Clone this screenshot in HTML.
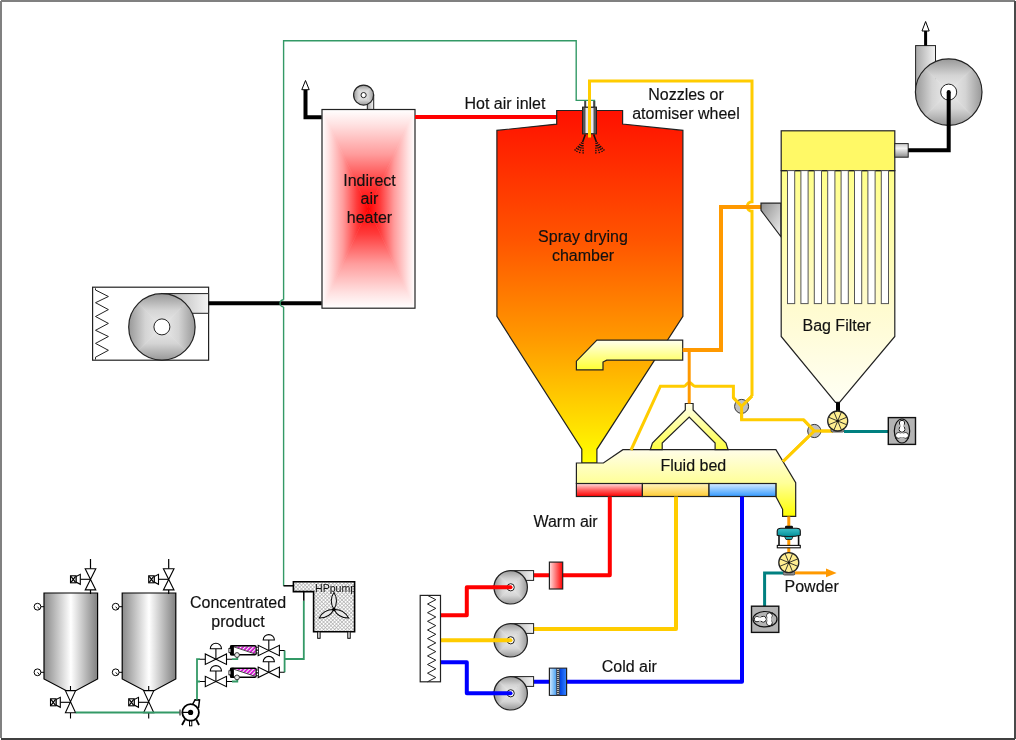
<!DOCTYPE html>
<html><head><meta charset="utf-8">
<style>
html,body{margin:0;padding:0;background:#fff;}
body{width:1016px;height:740px;overflow:hidden;}
svg{display:block;font-family:"Liberation Sans",sans-serif;will-change:transform;}
text{stroke:#111;stroke-width:0.15px;}
</style></head><body>
<svg width="1016" height="740" viewBox="0 0 1016 740">
<defs>
<linearGradient id="gChamber" x1="0" y1="110" x2="0" y2="463" gradientUnits="userSpaceOnUse">
  <stop offset="0" stop-color="#ff1000"/>
  <stop offset="0.37" stop-color="#ff5500"/>
  <stop offset="0.65" stop-color="#ff9a00"/>
  <stop offset="1" stop-color="#ffff00"/>
</linearGradient>
<linearGradient id="gHT" x1="0" y1="0" x2="0" y2="1"><stop offset="0" stop-color="#ffffff"/><stop offset="0.15" stop-color="#ffe2e2"/><stop offset="0.45" stop-color="#ff9c9c"/><stop offset="0.75" stop-color="#ff3a3a"/><stop offset="1" stop-color="#ff0000"/></linearGradient>
<linearGradient id="gHB" x1="0" y1="1" x2="0" y2="0"><stop offset="0" stop-color="#ffffff"/><stop offset="0.15" stop-color="#ffe2e2"/><stop offset="0.45" stop-color="#ff9c9c"/><stop offset="0.75" stop-color="#ff3a3a"/><stop offset="1" stop-color="#ff0000"/></linearGradient>
<linearGradient id="gHL" x1="0" y1="0" x2="1" y2="0"><stop offset="0" stop-color="#ffffff"/><stop offset="0.15" stop-color="#ffe2e2"/><stop offset="0.45" stop-color="#ff9c9c"/><stop offset="0.75" stop-color="#ff3a3a"/><stop offset="1" stop-color="#ff0000"/></linearGradient>
<linearGradient id="gHR" x1="1" y1="0" x2="0" y2="0"><stop offset="0" stop-color="#ffffff"/><stop offset="0.15" stop-color="#ffe2e2"/><stop offset="0.45" stop-color="#ff9c9c"/><stop offset="0.75" stop-color="#ff3a3a"/><stop offset="1" stop-color="#ff0000"/></linearGradient>
<linearGradient id="gFT" x1="0" y1="0" x2="0" y2="1"><stop offset="0" stop-color="#989898"/><stop offset="0.5" stop-color="#d4d4d4"/><stop offset="1" stop-color="#ececec"/></linearGradient>
<linearGradient id="gFB" x1="0" y1="1" x2="0" y2="0"><stop offset="0" stop-color="#989898"/><stop offset="0.5" stop-color="#d4d4d4"/><stop offset="1" stop-color="#ececec"/></linearGradient>
<linearGradient id="gFL" x1="0" y1="0" x2="1" y2="0"><stop offset="0" stop-color="#989898"/><stop offset="0.5" stop-color="#d4d4d4"/><stop offset="1" stop-color="#ececec"/></linearGradient>
<linearGradient id="gFR" x1="1" y1="0" x2="0" y2="0"><stop offset="0" stop-color="#989898"/><stop offset="0.5" stop-color="#d4d4d4"/><stop offset="1" stop-color="#ececec"/></linearGradient>
<linearGradient id="gOutlet" x1="0" y1="0" x2="1" y2="0">
  <stop offset="0" stop-color="#a8a8a8"/><stop offset="1" stop-color="#f4f4f4"/>
</linearGradient>
<linearGradient id="gOutletV" x1="0" y1="0" x2="0" y2="1">
  <stop offset="0" stop-color="#c8c8c8"/><stop offset="0.35" stop-color="#f4f4f4"/><stop offset="1" stop-color="#8c8c8c"/>
</linearGradient>
<linearGradient id="gTank" x1="0" y1="0" x2="1" y2="0">
  <stop offset="0" stop-color="#8a8a8a"/>
  <stop offset="0.5" stop-color="#ffffff"/>
  <stop offset="1" stop-color="#808080"/>
</linearGradient>
<linearGradient id="gBed" x1="0" y1="450" x2="0" y2="516" gradientUnits="userSpaceOnUse">
  <stop offset="0" stop-color="#fffde8"/>
  <stop offset="0.5" stop-color="#ffff99"/>
  <stop offset="1" stop-color="#ffff00"/>
</linearGradient>
<linearGradient id="gElbow" x1="0" y1="340" x2="0" y2="370" gradientUnits="userSpaceOnUse">
  <stop offset="0" stop-color="#fffff0"/>
  <stop offset="1" stop-color="#ffff30"/>
</linearGradient>
<linearGradient id="gY" x1="0" y1="403" x2="0" y2="450" gradientUnits="userSpaceOnUse">
  <stop offset="0" stop-color="#fffff0"/>
  <stop offset="1" stop-color="#ffff40"/>
</linearGradient>
<linearGradient id="gRedSeg" x1="0" y1="0" x2="0" y2="1">
  <stop offset="0" stop-color="#ffe0e0"/><stop offset="0.5" stop-color="#ff6060"/><stop offset="1" stop-color="#ff0000"/>
</linearGradient>
<linearGradient id="gYelSeg" x1="0" y1="0" x2="0" y2="1">
  <stop offset="0" stop-color="#fff4c0"/><stop offset="1" stop-color="#ffcc33"/>
</linearGradient>
<linearGradient id="gBluSeg" x1="0" y1="0" x2="0" y2="1">
  <stop offset="0" stop-color="#d8ecff"/><stop offset="1" stop-color="#3399ff"/>
</linearGradient>
<linearGradient id="gBag" x1="0" y1="170" x2="0" y2="402" gradientUnits="userSpaceOnUse">
  <stop offset="0" stop-color="#ffff88"/>
  <stop offset="0.6" stop-color="#fffbd0"/>
  <stop offset="1" stop-color="#fffff4"/>
</linearGradient>
<linearGradient id="gInlet" x1="0" y1="0" x2="1" y2="1">
  <stop offset="0" stop-color="#909090"/><stop offset="1" stop-color="#f0f0f0"/>
</linearGradient>
<linearGradient id="gHeaterSm" x1="0" y1="0" x2="1" y2="0">
  <stop offset="0" stop-color="#ffe0e0"/><stop offset="1" stop-color="#ff0000"/>
</linearGradient>
<linearGradient id="gTeal" x1="0" y1="0" x2="0" y2="1">
  <stop offset="0" stop-color="#40c0c8"/><stop offset="1" stop-color="#009099"/>
</linearGradient>
<pattern id="pHatch" width="2.6" height="2.6" patternUnits="userSpaceOnUse" patternTransform="rotate(45)">
  <rect width="2.6" height="2.6" fill="#fff"/>
  <rect x="0" y="0" width="0.65" height="2.6" fill="#ababab"/>
  <rect x="0" y="0" width="2.6" height="0.65" fill="#ababab"/>
</pattern>
<linearGradient id="gCoolL" x1="0" y1="0" x2="1" y2="0">
  <stop offset="0" stop-color="#c8e4ff"/><stop offset="1" stop-color="#4aa0f0"/>
</linearGradient>
<linearGradient id="gCoolR" x1="0" y1="0" x2="1" y2="0">
  <stop offset="0" stop-color="#0040e0"/><stop offset="1" stop-color="#3080ff"/>
</linearGradient>
<pattern id="pMag" width="2.9" height="2.9" patternUnits="userSpaceOnUse" patternTransform="rotate(45)">
  <rect width="2.9" height="2.9" fill="#fff"/>
  <rect width="1.5" height="2.9" fill="#ee00ee"/>
  <rect x="1.5" width="0.4" height="2.9" fill="#400040"/>
</pattern>
<g id="vvalve"><path d="M-5.3 -10.6 H5.3 L-5.3 10.6 H5.3 Z" fill="#fff" stroke="#000" stroke-width="1.1" stroke-linejoin="miter"/></g>
<g id="actuator">
  <path d="M0 0 H-10.2" stroke="#000" stroke-width="1.1"/>
  <path d="M-10.2 -5 V5 L-14.5 2.8 V-2.8 Z" fill="#fff" stroke="#000" stroke-width="1.1"/>
  <rect x="-20" y="-3.5" width="5.5" height="7" fill="#fff" stroke="#000" stroke-width="1.1"/>
  <path d="M-19.5 -3 L-15 3 M-19.5 3 L-15 -3" stroke="#000" stroke-width="1.2"/>
</g>
<g id="gauge">
  <circle cx="0" cy="0" r="3.4" fill="#fff" stroke="#000" stroke-width="1"/>
  <path d="M0 0 L2 2.4" stroke="#000" stroke-width="0.9"/>
  <path d="M3.4 0 H6.5" stroke="#000" stroke-width="1"/>
</g>
<g id="tank">
  <path d="M44 593 H97.6 V679 L75.7 690.7 H66.4 L44 679 Z" fill="url(#gTank)" stroke="#000" stroke-width="1.2"/>
  <use href="#gauge" x="37.5" y="606.7"/>
  <use href="#gauge" x="37.5" y="672.3"/>
  <path d="M90.5 559 V568.7 M90.5 590 V594" stroke="#000" stroke-width="1.2"/>
  <use href="#vvalve" x="90.5" y="579.3"/>
  <use href="#actuator" x="90.5" y="579.3"/>
  <path d="M70.5 686 V691 M70.5 712.7 V718.4" stroke="#000" stroke-width="1.1"/>
  <g transform="translate(70.5 701.7) scale(0.96 1.04)"><use href="#vvalve"/></g>
  <use href="#actuator" x="70.5" y="702.3"/>
</g>
<g id="hvalve">
  <path d="M-10.6 -5.2 V5.2 L10.6 -5.2 V5.2 Z" fill="#fff" stroke="#000" stroke-width="1.1" stroke-linejoin="miter"/>
  <path d="M0 0 V-10.5" stroke="#000" stroke-width="1.1"/>
  <path d="M-5.6 -10.5 A5.6 5.4 0 0 1 5.6 -10.5 Z" fill="#fff" stroke="#000" stroke-width="1.1"/>
</g>
<g id="flowm">
  <rect x="0" y="0" width="25.6" height="8.9" rx="1.5" fill="#fff" stroke="#000" stroke-width="1.6"/>
  <polygon points="4,0.8 24.8,0.8 24.8,8.2" fill="url(#pMag)"/><path d="M3.4 1 L25 8.2" stroke="#222" stroke-width="0.8"/>
  <rect x="0" y="-0.5" width="3.4" height="10" fill="#000"/>
  <rect x="-1.6" y="2.5" width="2" height="4" fill="#fff" stroke="#000" stroke-width="0.8"/>
  <rect x="25.8" y="1.8" width="2" height="2.2" fill="#fff" stroke="#000" stroke-width="0.6"/>
  <rect x="25.8" y="4.8" width="2" height="2.2" fill="#fff" stroke="#000" stroke-width="0.6"/>
  <circle cx="6.5" cy="9.1" r="2.4" fill="#e8e8e8" stroke="#222" stroke-width="0.9"/>
</g>
</defs>
<rect x="0" y="0" width="1016" height="740" fill="#fff"/>
<rect x="1" y="0" width="1014" height="2" fill="#808080"/>
<rect x="0" y="1" width="2" height="737" fill="#808080"/>
<rect x="1014" y="1" width="2" height="738" fill="#4a4a4a"/>
<rect x="1" y="738" width="1014" height="2" fill="#404040"/>
<path d="M283.6 585.8 V306.9 M283.6 299.8 V40.8 H576.2 V100.4 H594.5 V107" fill="none" stroke="#339966" stroke-width="1.4"/>
<path d="M585.2 101 V107.5 M594.2 101 V107.5" fill="none" stroke="#444" stroke-width="2"/>
<rect x="92.6" y="287.2" width="116" height="73" fill="#fff" stroke="#222" stroke-width="1.2"/>
<path d="M95.5 288.3 V290 L108.4 296.5 L95.5 302.7 L108.4 309.6 L95.5 316.5 L108.4 323.4 L95.5 330.3 L108.4 336.5 L95.5 343.4 L108.4 350.3 L95.5 357.2 V359.5" fill="none" stroke="#222" stroke-width="1"/>
<path d="M161.9 293.6 H208.6 V313.3 H190 Z" fill="url(#gOutlet)" stroke="#222" stroke-width="1"/>
<clipPath id="cpFan1"><circle cx="161.9" cy="326.9" r="33.2"/></clipPath><g clip-path="url(#cpFan1)">
<polygon points="128.7,293.7 195.10000000000002,293.7 161.9,326.9" fill="url(#gFT)" stroke="url(#gFT)" stroke-width="0.6"/>
<polygon points="128.7,360.09999999999997 195.10000000000002,360.09999999999997 161.9,326.9" fill="url(#gFB)" stroke="url(#gFB)" stroke-width="0.6"/>
<polygon points="128.7,293.7 128.7,360.09999999999997 161.9,326.9" fill="url(#gFL)" stroke="url(#gFL)" stroke-width="0.6"/>
<polygon points="195.10000000000002,293.7 195.10000000000002,360.09999999999997 161.9,326.9" fill="url(#gFR)" stroke="url(#gFR)" stroke-width="0.6"/>
</g><circle cx="161.9" cy="326.9" r="33.2" fill="none" stroke="#222" stroke-width="1.2"/><circle cx="161.9" cy="326.9" r="8" fill="#fff" stroke="#222" stroke-width="1"/>
<path d="M208.6 303.3 H322" stroke="#000" stroke-width="4"/>
<path d="M283.6 306.9 A3.55 3.55 0 0 1 283.6 299.8" fill="none" stroke="#339966" stroke-width="1.4"/>
<path d="M305.5 89.7 V117.2 H322" fill="none" stroke="#000" stroke-width="4" stroke-linejoin="miter"/>
<path d="M305.5 80.5 L309.2 89.7 L301.8 89.7 Z" fill="#fff" stroke="#000" stroke-width="1"/>
<rect x="367.3" y="95" width="6.4" height="14.5" fill="url(#gOutlet)" stroke="#222" stroke-width="1"/>
<clipPath id="cpFan2"><circle cx="363.6" cy="95.1" r="10"/></clipPath><g clip-path="url(#cpFan2)">
<polygon points="353.6,85.1 373.6,85.1 363.6,95.1" fill="url(#gFT)" stroke="url(#gFT)" stroke-width="0.6"/>
<polygon points="353.6,105.1 373.6,105.1 363.6,95.1" fill="url(#gFB)" stroke="url(#gFB)" stroke-width="0.6"/>
<polygon points="353.6,85.1 353.6,105.1 363.6,95.1" fill="url(#gFL)" stroke="url(#gFL)" stroke-width="0.6"/>
<polygon points="373.6,85.1 373.6,105.1 363.6,95.1" fill="url(#gFR)" stroke="url(#gFR)" stroke-width="0.6"/>
</g><circle cx="363.6" cy="95.1" r="10" fill="none" stroke="#222" stroke-width="1.2"/><circle cx="363.6" cy="95.1" r="2.6" fill="#fff" stroke="#222" stroke-width="1"/>
<g>
<polygon points="322.0,109.5 415.0,109.5 368.5,208.85" fill="url(#gHT)" stroke="url(#gHT)" stroke-width="0.6"/>
<polygon points="322.0,308.2 415.0,308.2 368.5,208.85" fill="url(#gHB)" stroke="url(#gHB)" stroke-width="0.6"/>
<polygon points="322,109.5 322,308.2 368.5,208.85" fill="url(#gHL)" stroke="url(#gHL)" stroke-width="0.6"/>
<polygon points="415,109.5 415,308.2 368.5,208.85" fill="url(#gHR)" stroke="url(#gHR)" stroke-width="0.6"/>
</g>
<rect x="322" y="109.5" width="93" height="198.7" fill="none" stroke="#222" stroke-width="1.2"/>
<text x="369.5" y="185.6" font-size="16" text-anchor="middle" fill="#111">Indirect</text>
<text x="369.5" y="204.4" font-size="16" text-anchor="middle" fill="#111">air</text>
<text x="369.5" y="223.2" font-size="16" text-anchor="middle" fill="#111">heater</text>
<path d="M415 117 H557" stroke="#ff0000" stroke-width="4"/>
<text x="464.5" y="109.3" font-size="16" fill="#111">Hot air inlet</text>
<polygon points="556.7,110.5 622.6,110.5 622.6,124 682.9,130.4 682.9,316.4 596.9,449.3 596.9,463 581.8,463 581.8,449.3 496.9,316.4 496.9,130.4 556.7,124.1" fill="url(#gChamber)" stroke="#222" stroke-width="1.2"/>
<text x="583" y="241.9" font-size="16" text-anchor="middle" fill="#111">Spray drying</text>
<text x="583" y="260.5" font-size="16" text-anchor="middle" fill="#111">chamber</text>
<rect x="582.5" y="107.1" width="14" height="26.8" fill="#555" stroke="#222" stroke-width="1"/>
<rect x="585.5" y="108" width="8" height="25" fill="#e8e8f0"/>
<g stroke="#111" fill="none">
  <path d="M585.3 134.5 L582.6 142" stroke-width="1.6"/>
  <path d="M593.7 134.5 L596.4 142" stroke-width="1.6"/>
  <path d="M582.8 141.5 L574.3 150.8 M596.2 141.5 L604.7 150.8 M582.8 141.5 L576.2 152.6 M596.2 141.5 L602.8 152.6 M582.8 141.5 L579.3 153.8 M596.2 141.5 L599.7 153.8 M582.8 141.5 L583.2 154.2 M596.2 141.5 L595.8 154.2" stroke-width="1.5" stroke-dasharray="1.3 1.1" stroke-dashoffset="-1.2"/>
</g>
<text x="686" y="99.6" font-size="16" text-anchor="middle" fill="#111">Nozzles or</text>
<text x="686" y="119.2" font-size="16" text-anchor="middle" fill="#111">atomiser wheel</text>
<polygon points="682.7,340.2 596.9,340.2 576.4,361.2 576.4,369.9 603,369.9 603,362 606.7,360.1 682.7,360.1" fill="url(#gElbow)" stroke="#222" stroke-width="1.2"/>
<polygon points="576.4,463 603.4,463 622.9,449.7 775.9,449.7 795.7,482.6 795.7,516.4 782.6,516.4 782.6,509.3 775.9,496.5 775.9,483.5 576.4,483.5" fill="url(#gBed)" stroke="#222" stroke-width="1.2"/>
<rect x="576.4" y="483.5" width="66" height="13" fill="url(#gRedSeg)" stroke="#222" stroke-width="1.2"/>
<rect x="642.4" y="483.5" width="66.6" height="13" fill="url(#gYelSeg)" stroke="#222" stroke-width="1.2"/>
<rect x="709" y="483.5" width="66.9" height="13" fill="url(#gBluSeg)" stroke="#222" stroke-width="1.2"/>
<text x="693.3" y="470.5" font-size="16" text-anchor="middle" fill="#111">Fluid bed</text>
<polygon points="685.3,403.5 693.1,403.5 693.1,410 726,443 728.1,449.7 715.1,449.7 715.1,443 689.2,417.1 662.2,443 662.2,449.7 650.3,449.7 652.4,443 685.3,410" fill="url(#gY)" stroke="#222" stroke-width="1.2"/>
<g fill="none" stroke="#ffcc00" stroke-width="3" stroke-linejoin="miter">
  <path d="M631 450 L660.4 386.2 H684 C686.2 386.2 686.8 382.4 689.2 382.4 C691.6 382.4 692.4 386.2 694.9 386.2 H733.4 V397.7 L741.6 406.4"/>
  <path d="M752 396 L741.6 406.4 V419.8 H803.5 L814.3 431"/>
  <path d="M783 461.5 L814.3 431 H833"/>
  <path d="M589.5 137.5 V80.9 H752 V201.8 A4.7 4.7 0 0 0 752 211.2 V396"/>
</g>
<circle cx="741.6" cy="406.4" r="7" fill="#c0c0c0" stroke="#333" stroke-width="1"/>
<circle cx="814.3" cy="431" r="6.6" fill="#c0c0c0" stroke="#333" stroke-width="1"/>
<g fill="none" stroke="#ffcc00" stroke-width="3">
  <path d="M733.4 397.7 L741.6 406.4 L752 396 M741.6 406.4 V419.8"/>
  <path d="M803.5 419.8 L814.3 431 L783 461.5 M814.3 431 H833"/>
</g>
<path d="M689.2 349 V403.5" fill="none" stroke="#ff9900" stroke-width="3"/>
<path d="M682.7 350 H721 V207 H761" fill="none" stroke="#ff9900" stroke-width="4" stroke-linejoin="miter"/>
<polygon points="761,203.2 781,203.2 781,236.8 761,210.3" fill="url(#gInlet)" stroke="#222" stroke-width="1.2"/>
<polygon points="781.2,170.6 894.8,170.6 894.8,336.5 839.5,402.4 835.5,402.4 781.2,336.5" fill="url(#gBag)" stroke="#222" stroke-width="1.2"/>
<rect x="781.2" y="130.8" width="113.6" height="39.8" fill="#fff966" stroke="#222" stroke-width="1.2"/>
<g fill="#fff" stroke="#555" stroke-width="1"><rect x="787.5" y="170.6" width="7.2" height="133"/><rect x="800.9" y="170.6" width="7.2" height="133"/><rect x="814.3" y="170.6" width="7.2" height="133"/><rect x="827.7" y="170.6" width="7.2" height="133"/><rect x="841.1" y="170.6" width="7.2" height="133"/><rect x="854.5" y="170.6" width="7.2" height="133"/><rect x="867.9" y="170.6" width="7.2" height="133"/><rect x="881.3" y="170.6" width="7.2" height="133"/></g>
<text x="836.7" y="331.1" font-size="16" text-anchor="middle" fill="#111">Bag Filter</text>
<rect x="894.8" y="143.6" width="13.4" height="13.6" fill="url(#gOutletV)" stroke="#222" stroke-width="1"/>
<rect x="836" y="402.4" width="4" height="9" fill="#000"/>
<rect x="831" y="428" width="13" height="4" rx="1.5" fill="#a0a0a0" stroke="#333" stroke-width="0.8"/>
<circle cx="837.7" cy="421" r="10" fill="#ffee90" stroke="#222" stroke-width="1.3"/><path d="M837.7 421 L846.94 424.83 M837.7 421 L841.53 430.24 M837.7 421 L833.87 430.24 M837.7 421 L828.46 424.83 M837.7 421 L828.46 417.17 M837.7 421 L833.87 411.76 M837.7 421 L841.53 411.76 M837.7 421 L846.94 417.17 " stroke="#222" stroke-width="0.9"/><circle cx="837.7" cy="421" r="1.2" fill="#111"/>
<path d="M844 431.6 H888.5" stroke="#008080" stroke-width="3"/>
<rect x="888.3" y="417.6" width="27.2" height="26.8" fill="#b4b4b4" stroke="#111" stroke-width="1.4"/>
<g transform="translate(902 431) rotate(0)"><ellipse cx="0" cy="0" rx="7.7" ry="12" fill="#b4b4b4" stroke="#111" stroke-width="1.2"/><path d="M-7 7.2 Q0 4.5 7 7.2" fill="none" stroke="#111" stroke-width="1"/><circle cx="0" cy="-8" r="2.6" fill="#fff" stroke="#111" stroke-width="1"/><circle cx="0" cy="-1.8" r="2.9" fill="#fff" stroke="#111" stroke-width="1"/><circle cx="-3.6" cy="4.4" r="2.7" fill="#fff" stroke="#111" stroke-width="1"/><circle cx="3.6" cy="4.4" r="2.7" fill="#fff" stroke="#111" stroke-width="1"/><circle cx="0" cy="-8" r="2.1" fill="#fff"/><circle cx="0" cy="-1.8" r="2.4" fill="#fff"/><circle cx="-3.6" cy="4.4" r="2.2" fill="#fff"/><circle cx="3.6" cy="4.4" r="2.2" fill="#fff"/><rect x="-1.6" y="-8" width="3.2" height="6" fill="#fff"/><rect x="-3.6" y="2.4" width="7.2" height="4" fill="#fff"/></g>
<rect x="915.6" y="45.6" width="19.9" height="48" fill="url(#gOutlet)" stroke="#222" stroke-width="1"/>
<clipPath id="cpFan3"><circle cx="948.7" cy="92.1" r="33.3"/></clipPath><g clip-path="url(#cpFan3)">
<polygon points="915.4000000000001,58.8 982.0,58.8 948.7,92.1" fill="url(#gFT)" stroke="url(#gFT)" stroke-width="0.6"/>
<polygon points="915.4000000000001,125.39999999999999 982.0,125.39999999999999 948.7,92.1" fill="url(#gFB)" stroke="url(#gFB)" stroke-width="0.6"/>
<polygon points="915.4000000000001,58.8 915.4000000000001,125.39999999999999 948.7,92.1" fill="url(#gFL)" stroke="url(#gFL)" stroke-width="0.6"/>
<polygon points="982.0,58.8 982.0,125.39999999999999 948.7,92.1" fill="url(#gFR)" stroke="url(#gFR)" stroke-width="0.6"/>
</g><circle cx="948.7" cy="92.1" r="33.3" fill="none" stroke="#222" stroke-width="1.2"/><circle cx="948.7" cy="92.1" r="8" fill="#fff" stroke="#222" stroke-width="1"/>
<path d="M908.2 150.3 H948.7 V92" fill="none" stroke="#000" stroke-width="4"/>
<circle cx="948.7" cy="92" r="2" fill="#000"/>
<path d="M925.6 45.6 V31" stroke="#000" stroke-width="3"/>
<path d="M925.6 21.5 L929.2 31 L922 31 Z" fill="#fff" stroke="#000" stroke-width="1"/>
<g fill="none" stroke-width="4" stroke-linejoin="round">
  <path d="M440.5 615.2 H466.8 V587.3 H510.7" stroke="#ff0000"/>
  <path d="M533.6 575.2 H609.8 V496.5" stroke="#ff0000"/>
  <path d="M440.5 640.3 H510.7" stroke="#ffcc00"/>
  <path d="M533.6 629 H676 V496.5" stroke="#ffcc00"/>
  <path d="M440.5 662.3 H466.8 V693.3 H510.7" stroke="#0000ff"/>
  <path d="M533.6 681.7 H742 V496.5" stroke="#0000ff"/>
</g>
<rect x="420.2" y="595.4" width="20.3" height="86.4" fill="#fff" stroke="#222" stroke-width="1.2"/>
<polyline points="427.5,595.4 435.8,599.7 427.5,604.0 435.8,608.4 427.5,612.7 435.8,617.0 427.5,621.3 435.8,625.6 427.5,630.0 435.8,634.3 427.5,638.6 435.8,642.9 427.5,647.2 435.8,651.6 427.5,655.9 435.8,660.2 427.5,664.5 435.8,668.8 427.5,673.2 435.8,677.5 427.5,681.8" fill="none" stroke="#222" stroke-width="1"/>
<rect x="510.7" y="570.6" width="22.9" height="9.8" fill="url(#gOutlet)" stroke="#222" stroke-width="1"/>
<clipPath id="cpFan4"><circle cx="510.7" cy="587.3" r="16.7"/></clipPath><g clip-path="url(#cpFan4)">
<polygon points="494.0,570.5999999999999 527.4,570.5999999999999 510.7,587.3" fill="url(#gFT)" stroke="url(#gFT)" stroke-width="0.6"/>
<polygon points="494.0,604.0 527.4,604.0 510.7,587.3" fill="url(#gFB)" stroke="url(#gFB)" stroke-width="0.6"/>
<polygon points="494.0,570.5999999999999 494.0,604.0 510.7,587.3" fill="url(#gFL)" stroke="url(#gFL)" stroke-width="0.6"/>
<polygon points="527.4,570.5999999999999 527.4,604.0 510.7,587.3" fill="url(#gFR)" stroke="url(#gFR)" stroke-width="0.6"/>
</g><circle cx="510.7" cy="587.3" r="16.7" fill="none" stroke="#222" stroke-width="1.2"/>
<circle cx="510.7" cy="587.3" r="3.6" fill="#fff" stroke="#222" stroke-width="1"/>
<path d="M494 587.3 H510.5" stroke="#ff0000" stroke-width="4" stroke-linecap="round"/>
<rect x="510.7" y="623.6" width="22.9" height="9.8" fill="url(#gOutlet)" stroke="#222" stroke-width="1"/>
<clipPath id="cpFan5"><circle cx="510.7" cy="640.3" r="16.7"/></clipPath><g clip-path="url(#cpFan5)">
<polygon points="494.0,623.5999999999999 527.4,623.5999999999999 510.7,640.3" fill="url(#gFT)" stroke="url(#gFT)" stroke-width="0.6"/>
<polygon points="494.0,657.0 527.4,657.0 510.7,640.3" fill="url(#gFB)" stroke="url(#gFB)" stroke-width="0.6"/>
<polygon points="494.0,623.5999999999999 494.0,657.0 510.7,640.3" fill="url(#gFL)" stroke="url(#gFL)" stroke-width="0.6"/>
<polygon points="527.4,623.5999999999999 527.4,657.0 510.7,640.3" fill="url(#gFR)" stroke="url(#gFR)" stroke-width="0.6"/>
</g><circle cx="510.7" cy="640.3" r="16.7" fill="none" stroke="#222" stroke-width="1.2"/>
<circle cx="510.7" cy="640.3" r="3.6" fill="#fff" stroke="#222" stroke-width="1"/>
<path d="M494 640.3 H510.5" stroke="#ffcc00" stroke-width="4" stroke-linecap="round"/>
<rect x="510.7" y="676.6" width="22.9" height="9.8" fill="url(#gOutlet)" stroke="#222" stroke-width="1"/>
<clipPath id="cpFan6"><circle cx="510.7" cy="693.3" r="16.7"/></clipPath><g clip-path="url(#cpFan6)">
<polygon points="494.0,676.5999999999999 527.4,676.5999999999999 510.7,693.3" fill="url(#gFT)" stroke="url(#gFT)" stroke-width="0.6"/>
<polygon points="494.0,710.0 527.4,710.0 510.7,693.3" fill="url(#gFB)" stroke="url(#gFB)" stroke-width="0.6"/>
<polygon points="494.0,676.5999999999999 494.0,710.0 510.7,693.3" fill="url(#gFL)" stroke="url(#gFL)" stroke-width="0.6"/>
<polygon points="527.4,676.5999999999999 527.4,710.0 510.7,693.3" fill="url(#gFR)" stroke="url(#gFR)" stroke-width="0.6"/>
</g><circle cx="510.7" cy="693.3" r="16.7" fill="none" stroke="#222" stroke-width="1.2"/>
<circle cx="510.7" cy="693.3" r="3.6" fill="#fff" stroke="#222" stroke-width="1"/>
<path d="M494 693.3 H510.5" stroke="#0000ff" stroke-width="4" stroke-linecap="round"/>
<rect x="549.4" y="562.1" width="13.3" height="26.9" fill="url(#gHeaterSm)" stroke="#222" stroke-width="1.2"/>
<rect x="549.4" y="668.2" width="17.2" height="27.1" fill="#2266ee" stroke="#222" stroke-width="1.2"/>
<rect x="550" y="668.8" width="6.3" height="26" fill="url(#gCoolL)"/>
<rect x="559.7" y="668.8" width="6.3" height="26" fill="url(#gCoolR)"/>
<rect x="556.3" y="668.8" width="3.4" height="26" fill="#444"/>
<path d="M558 669 V695" stroke="#fff" stroke-width="1.2" stroke-dasharray="1 1"/>
<text x="533.4" y="526.7" font-size="16" fill="#111">Warm air</text>
<text x="601.7" y="671.7" font-size="16" fill="#111">Cold air</text>
<path d="M788.8 516.4 V572.9" stroke="#ff9900" stroke-width="3"/>
<rect x="785" y="525.8" width="8" height="3" rx="1.2" fill="#111"/>
<path d="M777.2 535.2 V531 Q777.5 528.3 781 528.3 H796.5 Q800.3 528.3 800.3 531 V535.2 Q796 536.5 788.8 536.5 Q781.5 536.5 777.2 535.2 Z" fill="url(#gTeal)" stroke="#111" stroke-width="1.1"/>
<path d="M784.5 536.5 L786 539.5 H791.6 L793.1 536.5 Z" fill="#20a8b0" stroke="#111" stroke-width="0.8"/>
<path d="M779 536 V546.5 M798.6 536 V546.5" stroke="#111" stroke-width="1.6"/>
<rect x="777.3" y="545.4" width="23" height="2.4" fill="#fff" stroke="#111" stroke-width="1.1"/>
<rect x="783" y="571.5" width="12" height="3.5" rx="1.5" fill="#909090" stroke="#333" stroke-width="0.8"/>
<circle cx="788.8" cy="562.6" r="10" fill="#ffee90" stroke="#222" stroke-width="1.3"/><path d="M788.8 562.6 L798.04 566.43 M788.8 562.6 L792.63 571.84 M788.8 562.6 L784.97 571.84 M788.8 562.6 L779.56 566.43 M788.8 562.6 L779.56 558.77 M788.8 562.6 L784.97 553.36 M788.8 562.6 L792.63 553.36 M788.8 562.6 L798.04 558.77 " stroke="#222" stroke-width="0.9"/><circle cx="788.8" cy="562.6" r="1.2" fill="#111"/>
<path d="M795 572.9 H827" stroke="#ff9900" stroke-width="3"/>
<path d="M836.6 572.9 L826 568.5 L826 577.3 Z" fill="#ff9900"/>
<path d="M783 572.9 H764.6 V606" fill="none" stroke="#008080" stroke-width="3"/>
<rect x="751.5" y="606.2" width="27.3" height="26.2" fill="#b4b4b4" stroke="#111" stroke-width="1.4"/>
<g transform="translate(765 619.2) rotate(-90)"><ellipse cx="0" cy="0" rx="7.7" ry="12" fill="#b4b4b4" stroke="#111" stroke-width="1.2"/><path d="M-7 7.2 Q0 4.5 7 7.2" fill="none" stroke="#111" stroke-width="1"/><circle cx="0" cy="-8" r="2.6" fill="#fff" stroke="#111" stroke-width="1"/><circle cx="0" cy="-1.8" r="2.9" fill="#fff" stroke="#111" stroke-width="1"/><circle cx="-3.6" cy="4.4" r="2.7" fill="#fff" stroke="#111" stroke-width="1"/><circle cx="3.6" cy="4.4" r="2.7" fill="#fff" stroke="#111" stroke-width="1"/><circle cx="0" cy="-8" r="2.1" fill="#fff"/><circle cx="0" cy="-1.8" r="2.4" fill="#fff"/><circle cx="-3.6" cy="4.4" r="2.2" fill="#fff"/><circle cx="3.6" cy="4.4" r="2.2" fill="#fff"/><rect x="-1.6" y="-8" width="3.2" height="6" fill="#fff"/><rect x="-3.6" y="2.4" width="7.2" height="4" fill="#fff"/></g>
<text x="784.5" y="591.8" font-size="16" fill="#111">Powder</text>
<use href="#tank"/>
<use href="#tank" x="78.2"/>
<path d="M75.7 712.5 H179.5" stroke="#339966" stroke-width="1.8"/>
<g stroke="#000" fill="none">
  <path d="M192.5 704.5 L195 700 H199.5 L198.5 708" fill="#fff" stroke-width="1.5"/>
  <circle cx="190.6" cy="712.4" r="8.3" fill="#fff" stroke-width="1.8"/>
  <circle cx="190.6" cy="712.4" r="2.6" fill="#000" stroke="none"/>
  <path d="M182.3 712.4 H190.6" stroke-width="1.2"/>
  <path d="M180 709.5 V715.5" stroke-width="1"/>
  <path d="M194.5 699.7 H199.5" stroke-width="1"/>
  <path d="M185 719.5 L182 725" stroke-width="1.8"/>
  <path d="M196.2 719.5 L199 725" stroke-width="1.8"/>
  <rect x="189.5" y="721" width="2.3" height="4.8" stroke-width="1" fill="#fff"/>
</g>
<g fill="none" stroke="#339966" stroke-width="1.8">
  <path d="M197 699.7 V659.2 H200 M197 681.5 H200"/>
  <path d="M232 659.2 H237.3 V656.5 M232 681.5 H237.3 V679"/>
  <path d="M284.6 650.5 V672.3 M284.6 659 H303.8 V600.8"/>
</g>
<g stroke="#000" stroke-width="1.1">
  <path d="M199.9 659.2 H205.3 M226.5 659.2 H232 M199.9 681.5 H205.3 M226.5 681.5 H232"/>
  <path d="M279.6 650.5 H284.6 M279.6 672.3 H284.6"/>
</g>
<use href="#hvalve" x="215.9" y="659.2"/>
<use href="#hvalve" x="215.9" y="681.5"/>
<use href="#hvalve" x="268.8" y="650.5"/>
<use href="#hvalve" x="268.8" y="672.3"/>
<use href="#flowm" x="230.5" y="645.9"/>
<use href="#flowm" x="230.5" y="668.3"/>
<text x="238" y="607.7" font-size="16" text-anchor="middle" fill="#111">Concentrated</text>
<text x="238" y="626.5" font-size="16" text-anchor="middle" fill="#111">product</text>
<path d="M283.5 585.8 H293.4" stroke="#000" stroke-width="1.5"/>
<path d="M303.8 591.6 V600.8" stroke="#000" stroke-width="1.5"/>
<path d="M293.4 581.7 H354.6 V631.8 H313.6 V591.6 H293.4 Z" fill="url(#pHatch)"/>
<clipPath id="cpHP"><rect x="293" y="581" width="61.5" height="51"/></clipPath>
<text x="315" y="592" font-size="10.6" fill="#111" style="stroke:none" clip-path="url(#cpHP)">HPpump</text>
<path d="M293.4 581.7 H354.6 V631.8 H313.6 V591.6 H293.4 Z" fill="none" stroke="#000" stroke-width="1.6"/>
<rect x="317.7" y="631.8" width="2.4" height="6.5" fill="#fff" stroke="#000" stroke-width="1"/>
<rect x="347.8" y="631.8" width="2.4" height="6.5" fill="#fff" stroke="#000" stroke-width="1"/>
<g fill="#e8e8e8" stroke="#000" stroke-width="1">
  <path d="M0 0 Q8.5 5.2 17 0 Q8.5 -5.2 0 0Z" transform="translate(333.9 609.4) rotate(-90)"/>
  <path d="M0 0 Q8.5 5.2 17 0 Q8.5 -5.2 0 0Z" transform="translate(333.9 609.4) rotate(150)"/>
  <path d="M0 0 Q8.5 5.2 17 0 Q8.5 -5.2 0 0Z" transform="translate(333.9 609.4) rotate(30)"/>
  <circle cx="333.9" cy="609.4" r="1.3" fill="#000"/>
</g>
</svg>
</body></html>
